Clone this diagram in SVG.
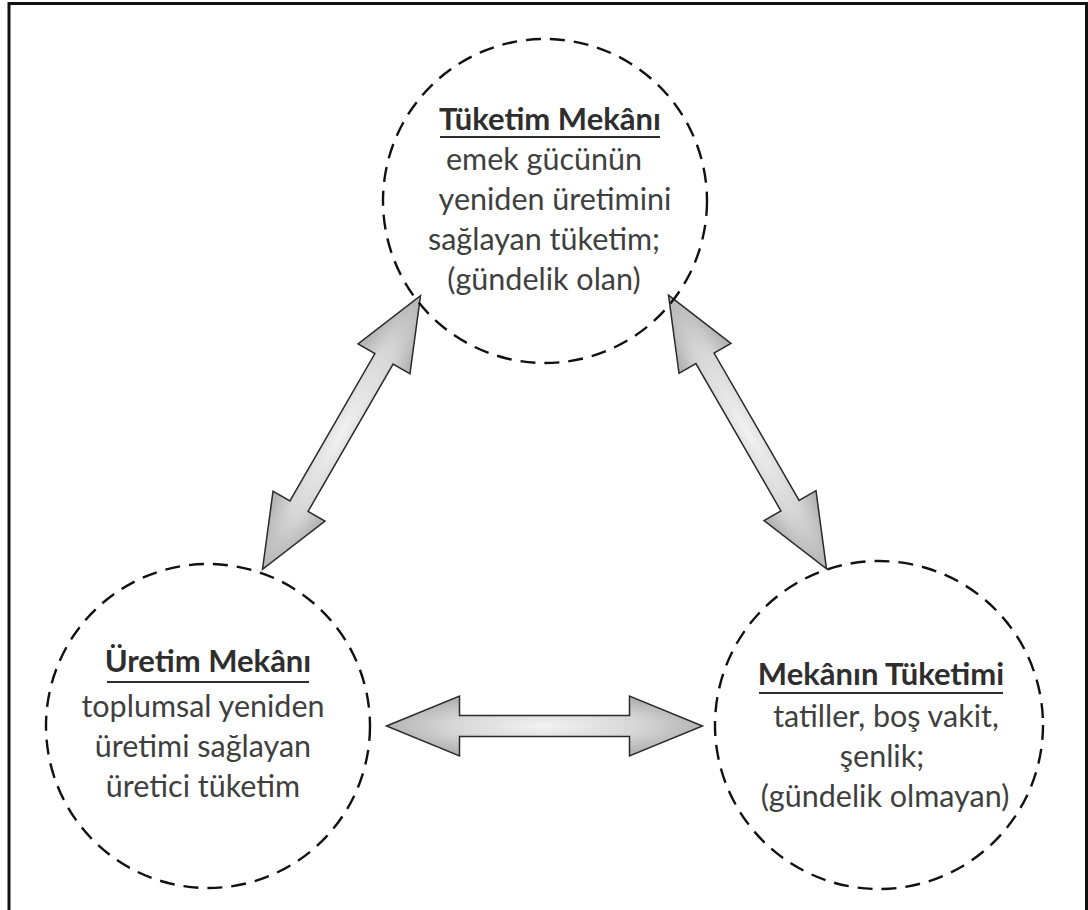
<svg xmlns="http://www.w3.org/2000/svg" width="1088" height="910" viewBox="0 0 1088 910">
<defs>
<radialGradient id="ag" cx="0.5" cy="0.5" r="0.5">
<stop offset="0" stop-color="#f2f2f2"/>
<stop offset="0.6" stop-color="#d6d6d6"/>
<stop offset="1" stop-color="#b4b4b4"/>
</radialGradient>
<path id="arrow" d="M -158 0 L -85 -30 L -85 -10.5 L 85 -10.5 L 85 -30 L 158 0 L 85 30 L 85 10.5 L -85 10.5 L -85 30 Z"/>
</defs>
<style>
.ring{fill:none;stroke:#111;stroke-width:2.4;stroke-dasharray:15 9}
.title{font-family:Lato,"Liberation Sans",sans-serif;font-weight:bold;font-size:31px;fill:#2e2e2e;text-anchor:middle}
.body{font-family:Lato,"Liberation Sans",sans-serif;font-size:30.5px;fill:#3f3f3f;text-anchor:middle}
.ul{stroke:#2e2e2e;stroke-width:2.2}
.arr{fill:url(#ag);stroke:#2a2a2a;stroke-width:1.5;stroke-linejoin:miter}
</style>
<rect width="1088" height="910" fill="#fff"/>
<path d="M9 910 V3.5 H1086.5 V910" fill="none" stroke="#111" stroke-width="3"/>
<g id="connectors">
<use href="#arrow" class="arr" transform="translate(341.5 432.5) rotate(-60)"/>
<use href="#arrow" class="arr" transform="translate(747.5 432) rotate(60)"/>
<use href="#arrow" class="arr" transform="translate(544.5 726)"/>
</g>
<g id="tuketim-mekani">
<circle class="ring" cx="545" cy="201" r="162"/>
<text class="title" x="550" y="130">Tüketim Mekânı</text>
<line class="ul" x1="440" y1="137" x2="660" y2="137"/>
<text class="body" x="544" y="170">emek gücünün</text>
<text class="body" x="555" y="210">yeniden üretimini</text>
<text class="body" x="544" y="250">sağlayan tüketim;</text>
<text class="body" x="544" y="290">(gündelik olan)</text>
</g>
<g id="uretim-mekani">
<circle class="ring" cx="208" cy="726" r="162"/>
<text class="title" x="208" y="672">Üretim Mekânı</text>
<line class="ul" x1="107" y1="682" x2="309" y2="682"/>
<text class="body" x="203" y="717">toplumsal yeniden</text>
<text class="body" x="203" y="757">üretimi sağlayan</text>
<text class="body" x="203" y="797">üretici tüketim</text>
</g>
<g id="mekanin-tuketimi">
<circle class="ring" cx="879" cy="725" r="164"/>
<text class="title" x="881" y="685">Mekânın Tüketimi</text>
<line class="ul" x1="759" y1="693" x2="1003" y2="693"/>
<text class="body" x="886" y="727">tatiller, boş vakit,</text>
<text class="body" x="882" y="767">şenlik;</text>
<text class="body" x="885" y="807">(gündelik olmayan)</text>
</g>
</svg>
